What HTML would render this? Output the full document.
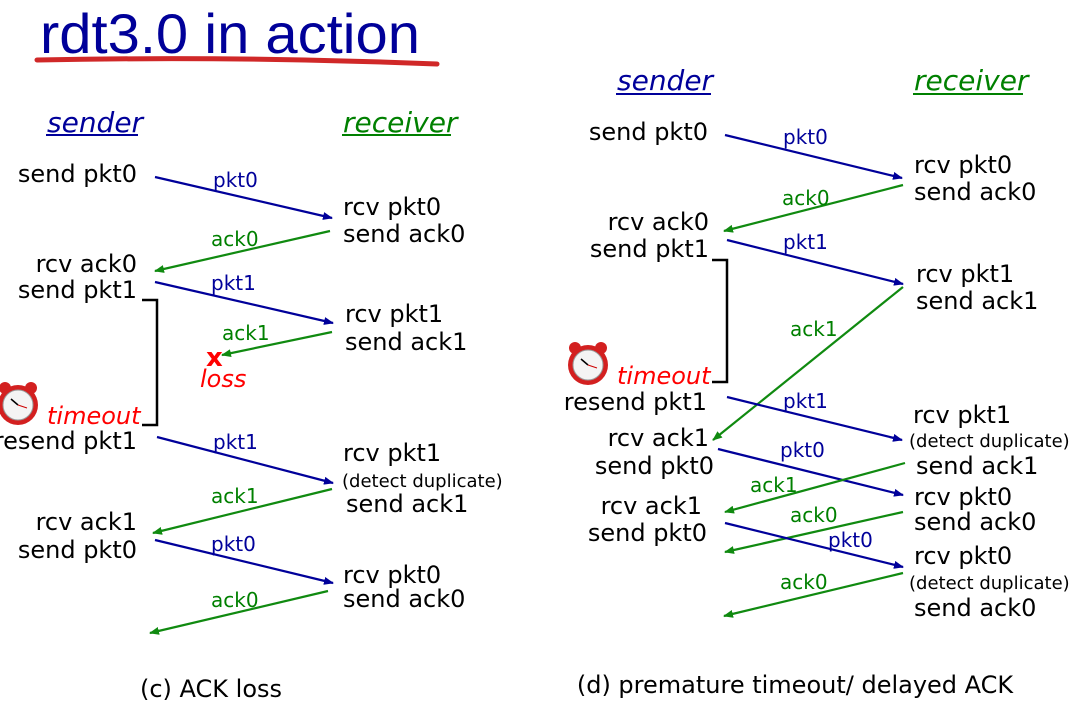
<!DOCTYPE html>
<html><head><meta charset="utf-8"><style>
html,body{margin:0;padding:0;background:#fff;}
svg{display:block;}
text{font-family:"DejaVu Sans","Liberation Sans",sans-serif;}
.t{font-size:24px;fill:#000;}
.b{font-size:20px;fill:#00009a;}
.g{font-size:20px;fill:#008000;}
.d{font-size:18px;fill:#000;}
.hb{font-size:28px;font-style:italic;fill:#00009a;}
.hg{font-size:28px;font-style:italic;fill:#008000;}
.r{font-style:italic;fill:#f00;font-size:24px;}
.lb{stroke:#00009a;stroke-width:2.2;}
.lg{stroke:#108a10;stroke-width:2.2;}
</style></head><body>
<svg width="1085" height="728" viewBox="0 0 1085 728">
<defs>
<marker id="ab" markerWidth="10" markerHeight="8" refX="9" refY="4" orient="auto" markerUnits="userSpaceOnUse"><path d="M0,0 L10,4 L0,8 z" fill="#00009a"/></marker>
<marker id="ag" markerWidth="10" markerHeight="8" refX="9" refY="4" orient="auto" markerUnits="userSpaceOnUse"><path d="M0,0 L10,4 L0,8 z" fill="#108a10"/></marker>
<g id="clk">
<circle cx="-13" cy="-17" r="6" fill="#d32020"/><circle cx="13" cy="-17" r="6" fill="#d32020"/>
<circle cx="0" cy="0" r="20" fill="#d32020"/>
<circle cx="0" cy="0" r="15" fill="#f4f4f4" stroke="#999"/>
<line x1="0" y1="0" x2="-7" y2="-6" stroke="#000" stroke-width="1.5"/><line x1="0" y1="0" x2="9" y2="3" stroke="#c00" stroke-width="1"/>
</g>
</defs>
<text x="40" y="53" font-size="56" fill="#000099" textLength="380" lengthAdjust="spacingAndGlyphs" style="font-family:'Liberation Sans',sans-serif">rdt3.0 in action</text>
<path d="M37,60 Q240,56 437,64" stroke="#d02828" stroke-width="5" fill="none" stroke-linecap="round"/>

<!-- LEFT -->
<text x="47" y="132" class="hb">sender</text><line x1="46" y1="135" x2="138" y2="135" stroke="#00009a" stroke-width="2"/>
<text x="343" y="132" class="hg">receiver</text><line x1="342" y1="135" x2="451" y2="135" stroke="#008000" stroke-width="2"/>
<g class="t" text-anchor="end">
<text x="137" y="182">send pkt0</text>
<text x="137" y="272">rcv ack0</text><text x="137" y="298">send pkt1</text>
<text x="137" y="449">resend pkt1</text>
<text x="137" y="530">rcv ack1</text><text x="137" y="558">send pkt0</text>
</g>
<g class="t">
<text x="343" y="215">rcv pkt0</text><text x="343" y="242">send ack0</text>
<text x="345" y="322">rcv pkt1</text><text x="345" y="350">send ack1</text>
<text x="343" y="461">rcv pkt1</text><text x="346" y="512">send ack1</text>
<text x="343" y="583">rcv pkt0</text><text x="343" y="607">send ack0</text>
</g>
<text x="342" y="487" class="d">(detect duplicate)</text>
<line x1="155" y1="177" x2="332" y2="218" class="lb" marker-end="url(#ab)"/><text x="213" y="187" class="b">pkt0</text>
<line x1="330" y1="231" x2="155" y2="271" class="lg" marker-end="url(#ag)"/><text x="211" y="246" class="g">ack0</text>
<line x1="155" y1="282" x2="333" y2="323" class="lb" marker-end="url(#ab)"/><text x="211" y="290" class="b">pkt1</text>
<line x1="332" y1="332" x2="222" y2="355" class="lg" marker-end="url(#ag)"/><text x="222" y="340" class="g">ack1</text>
<text x="206" y="366" fill="#f00" font-size="26" font-weight="bold">x</text>
<text x="200" y="387" class="r" font-size="21">loss</text>
<path d="M142,300 H157 V425 H142" stroke="#000" stroke-width="2.5" fill="none"/>
<use href="#clk" x="18" y="405"/>
<text x="47" y="424" class="r">timeout</text>
<line x1="157" y1="437" x2="333" y2="483" class="lb" marker-end="url(#ab)"/><text x="213" y="449" class="b">pkt1</text>
<line x1="332" y1="489" x2="153" y2="533" class="lg" marker-end="url(#ag)"/><text x="211" y="503" class="g">ack1</text>
<line x1="155" y1="540" x2="333" y2="583" class="lb" marker-end="url(#ab)"/><text x="211" y="551" class="b">pkt0</text>
<line x1="328" y1="591" x2="150" y2="633" class="lg" marker-end="url(#ag)"/><text x="211" y="607" class="g">ack0</text>
<text x="211" y="697" class="t" text-anchor="middle">(c) ACK loss</text>

<!-- RIGHT -->
<text x="617" y="90" class="hb">sender</text><line x1="616" y1="94" x2="711" y2="94" stroke="#00009a" stroke-width="2"/>
<text x="914" y="90" class="hg">receiver</text><line x1="913" y1="94" x2="1023" y2="94" stroke="#008000" stroke-width="2"/>
<g class="t" text-anchor="end">
<text x="708" y="140">send pkt0</text>
<text x="709" y="230">rcv ack0</text><text x="709" y="257">send pkt1</text>
<text x="707" y="410">resend pkt1</text>
<text x="709" y="446">rcv ack1</text><text x="714" y="474">send pkt0</text>
<text x="702" y="514">rcv ack1</text><text x="707" y="541">send pkt0</text>
</g>
<g class="t">
<text x="914" y="173">rcv pkt0</text><text x="914" y="200">send ack0</text>
<text x="916" y="282">rcv pkt1</text><text x="916" y="309">send ack1</text>
<text x="913" y="423">rcv pkt1</text><text x="916" y="474">send ack1</text>
<text x="914" y="505">rcv pkt0</text><text x="914" y="530">send ack0</text>
<text x="914" y="564">rcv pkt0</text><text x="914" y="616">send ack0</text>
</g>
<text x="909" y="447" class="d">(detect duplicate)</text>
<text x="909" y="589" class="d">(detect duplicate)</text>
<line x1="725" y1="135" x2="902" y2="178" class="lb" marker-end="url(#ab)"/><text x="783" y="144" class="b">pkt0</text>
<line x1="903" y1="185" x2="724" y2="231" class="lg" marker-end="url(#ag)"/><text x="782" y="205" class="g">ack0</text>
<line x1="727" y1="240" x2="903" y2="284" class="lb" marker-end="url(#ab)"/><text x="783" y="249" class="b">pkt1</text>
<path d="M712,260 H727 V382 H712" stroke="#000" stroke-width="2.5" fill="none"/>
<line x1="903" y1="287" x2="713" y2="440" class="lg" marker-end="url(#ag)"/><text x="790" y="336" class="g">ack1</text>
<use href="#clk" x="588" y="365"/>
<text x="617" y="384" class="r">timeout</text>
<line x1="727" y1="397" x2="902" y2="440" class="lb" marker-end="url(#ab)"/><text x="783" y="408" class="b">pkt1</text>
<line x1="718" y1="449" x2="903" y2="495" class="lb" marker-end="url(#ab)"/><text x="780" y="457" class="b">pkt0</text>
<line x1="905" y1="463" x2="725" y2="512" class="lg" marker-end="url(#ag)"/><text x="750" y="492" class="g">ack1</text>
<line x1="903" y1="512" x2="725" y2="552" class="lg" marker-end="url(#ag)"/><text x="790" y="522" class="g">ack0</text>
<line x1="725" y1="523" x2="903" y2="567" class="lb" marker-end="url(#ab)"/><text x="828" y="547" class="b">pkt0</text>
<line x1="903" y1="573" x2="724" y2="616" class="lg" marker-end="url(#ag)"/><text x="780" y="589" class="g">ack0</text>
<text x="795" y="693" class="t" text-anchor="middle">(d) premature timeout/ delayed ACK</text>
</svg>
</body></html>
